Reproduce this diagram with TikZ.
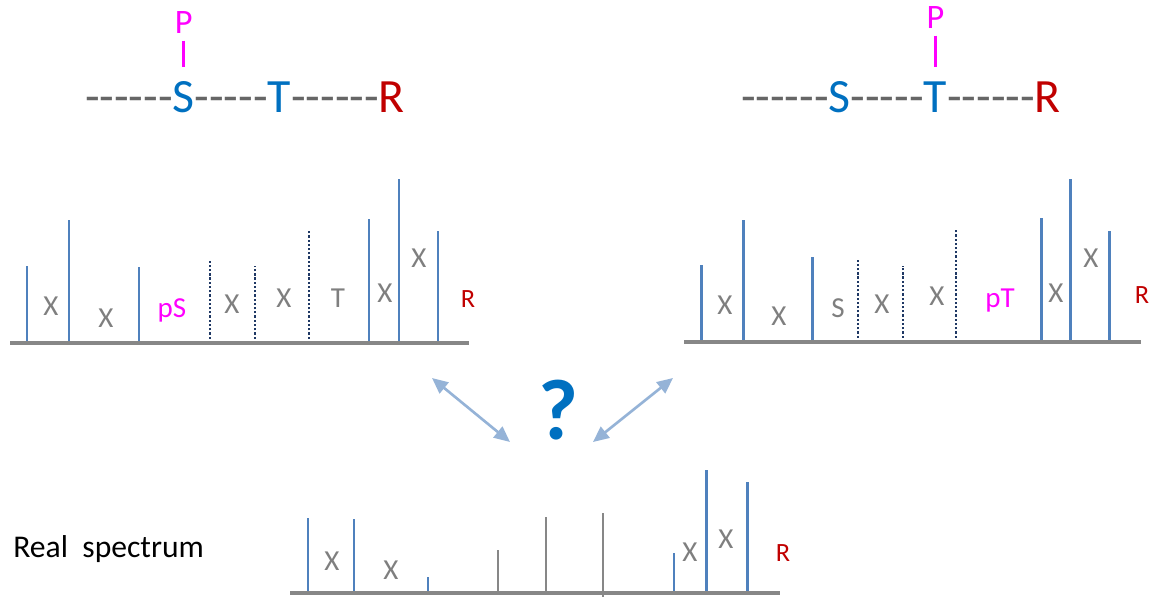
\documentclass[tikz,border=0pt]{standalone}
\usepackage{fontspec}
\setmainfont{Carlito}[Ligatures=TeXOff]
\usetikzlibrary{positioning,arrows.meta}

\definecolor{dashgray}{HTML}{666666}
\definecolor{lblgray}{HTML}{7F7F7F}
\definecolor{axisgray}{HTML}{878787}
\definecolor{resblue}{HTML}{0070C0}
\definecolor{phosmag}{HTML}{FF00FF}
\definecolor{argred}{HTML}{C00000}
\definecolor{peakblue}{HTML}{4F81BD}
\definecolor{fragnavy}{HTML}{1F3864}
\definecolor{linkblue}{HTML}{95B3D7}

\begin{document}
\begin{tikzpicture}[x=0.02cm, y=-0.02cm,
    seq/.style={font=\fontsize{27.2}{31}\selectfont, inner sep=0pt, outer sep=0pt},
    phos/.style={font=\fontsize{19.5}{22}\selectfont, text=phosmag, inner sep=0pt, outer sep=0pt},
    bond/.style={draw=phosmag, line width=1.6pt, shorten <=4pt, shorten >=8pt},
    peak/.style={draw=peakblue, line width=1.7pt},
    grpeak/.style={draw=axisgray, line width=1.7pt},
    frag/.style={draw=fragnavy, line width=1.6pt, dash pattern=on 1.3pt off 1.1pt},
    axis/.style={draw=axisgray, line width=2pt},
    lbl/.style={font=\fontsize{16.5}{19}\selectfont, text=lblgray, inner sep=0pt, anchor=base},
    rlbl/.style={font=\fontsize{15}{18}\selectfont, text=argred, inner sep=0pt, anchor=base},
    link/.style={draw=linkblue, line width=1.5pt,
      {Triangle[length=9pt,width=8pt]}-{Triangle[length=9pt,width=8pt]}}]
  \useasboundingbox (0,0) rectangle (1150,596);

  % peptide, phospho on S
  \node[seq, text=dashgray, anchor=base west] (d1) at (85,112) {------};
  \node[seq, text=resblue, base right=0pt of d1] (S1) {S};
  \node[seq, text=dashgray, base right=0pt of S1] (d2) {-----};
  \node[seq, text=resblue, base right=0pt of d2] (T1) {T};
  \node[seq, text=dashgray, base right=0pt of T1] (d3) {------};
  \node[seq, text=argred, base right=0pt of d3] (R1) {R};
  \node[phos, above=27pt of S1] (P1) {P};
  \draw[bond] (P1) -- (S1);

  % peptide, phospho on T
  \node[seq, text=dashgray, anchor=base west] (e1) at (741,112) {------};
  \node[seq, text=resblue, base right=0pt of e1] (S2) {S};
  \node[seq, text=dashgray, base right=0pt of S2] (e2) {-----};
  \node[seq, text=resblue, base right=0pt of e2] (T2) {T};
  \node[seq, text=dashgray, base right=0pt of T2] (e3) {------};
  \node[seq, text=argred, base right=0pt of e3] (R2) {R};
  \node[phos, above=30pt of T2] (P2) {P};
  \draw[bond] (P2) -- (T2);

  % spectrum for pS
  \foreach \x/\t in {27/266, 69/220, 139/267, 369/219, 399/179, 438/231}
    \draw[peak] (\x,343) -- (\x,\t);
  \foreach \x/\t in {210/259, 255/266, 309/231}
    \draw[frag] (\x,343) -- (\x,\t);
  \draw[axis] (10,343) -- (469,343);
  \foreach \x/\y/\t [count=\i] in {51/315/X, 106/327/X, 232/313/X, 284/307/X,
      338/307/T, 385/302/X, 419/267/X}
    \node[lbl] (a\i) at (\x,\y) {\t};
  \node[lbl, text=phosmag] (aps) at (172,317) {pS};
  \node[rlbl] (ar) at (468,307) {R};

  % spectrum for pT
  \foreach \x/\t in {701/265, 743/220, 812/257, 1041/218, 1070/179, 1109/231}
    \draw[peak] (\x,342) -- (\x,\t);
  \foreach \x/\t in {858/259, 903/266, 956/230}
    \draw[frag] (\x,342) -- (\x,\t);
  \draw[axis] (684,342) -- (1141,342);
  \foreach \x/\y/\t [count=\i] in {725/314/X, 779/325/X, 838/317/S, 882/313/X,
      937/305/X, 1056/302/X, 1091/267/X}
    \node[lbl] (b\i) at (\x,\y) {\t};
  \node[lbl, text=phosmag] (bpt) at (1000,307) {pT};
  \node[rlbl] (br) at (1142,303) {R};

  % measured spectrum
  \node[anchor=base west, font=\fontsize{18}{21}\selectfont, inner sep=0pt] (real)
    at (13,557) {Real\ \ spectrum};
  \foreach \x/\t in {308/518, 354/519, 428/577, 674/553, 706/470, 747/482}
    \draw[peak] (\x,593) -- (\x,\t);
  \draw[grpeak] (498,593) -- (498,550);
  \draw[grpeak] (546,593) -- (546,517);
  \draw[grpeak] (603,597) -- (603,513);
  \draw[axis] (290,593) -- (780,593);
  \foreach \x/\y/\t [count=\i] in {332/570/X, 391/579/X, 690/561/X, 726/548/X}
    \node[lbl] (c\i) at (\x,\y) {\t};
  \node[rlbl] (cr) at (783,561) {R};

  % which one?
  \node[font=\bfseries\fontsize{49}{52}\selectfont, text=resblue, inner sep=0pt] (q)
    at (558,410) {?};
  \coordinate (la) at (432,378);
  \coordinate (lb) at (510,442);
  \coordinate (ra) at (593,442);
  \coordinate (rb) at (673,378);
  \draw[link] (la) -- (lb);
  \draw[link] (ra) -- (rb);
\end{tikzpicture}
\end{document}
